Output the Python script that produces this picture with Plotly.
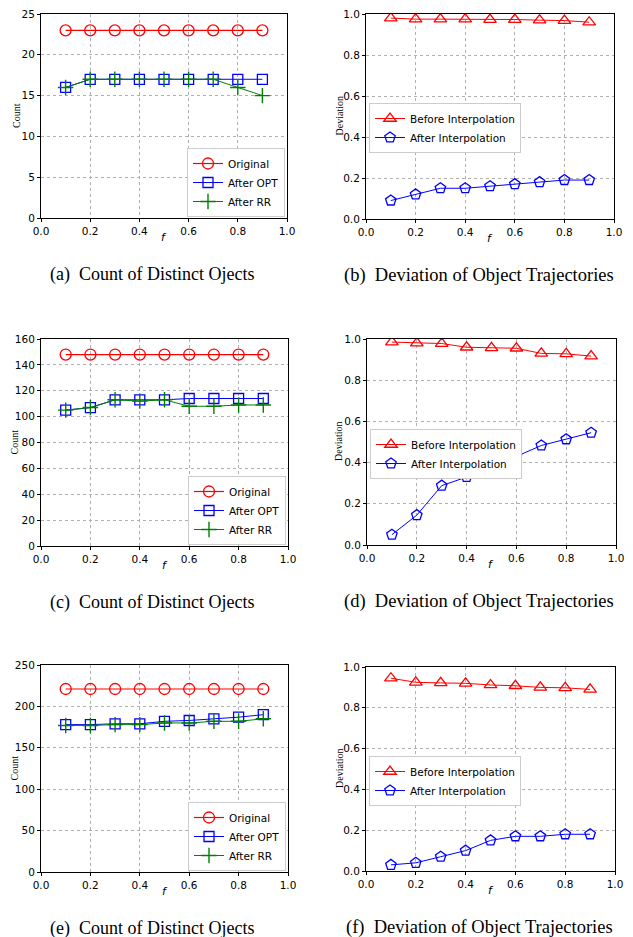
import plotly.graph_objects as go

F = [0.1, 0.2, 0.3, 0.4, 0.5, 0.6, 0.7, 0.8, 0.9]

# (a)
a_original = [23, 23, 23, 23, 23, 23, 23, 23, 23]
a_opt = [16, 17, 17, 17, 17, 17, 17, 17, 17]
a_rr = [16, 17, 17, 17, 17, 17, 17, 16, 15]
# (b)
b_before = [0.98, 0.975, 0.975, 0.975, 0.973, 0.973, 0.97, 0.968, 0.96]
b_after = [0.09, 0.12, 0.15, 0.15, 0.16, 0.17, 0.18, 0.19, 0.19]
# (c)
c_original = [148, 148, 148, 148, 148, 148, 148, 148, 148]
c_opt = [105, 107, 113, 113, 113, 114, 114, 114, 114]
c_rr = [105, 107, 113, 112, 113, 108, 108, 109, 109]
# (d)
d_before = [0.985, 0.98, 0.978, 0.96, 0.957, 0.955, 0.93, 0.928, 0.917]
d_after = [0.05, 0.145, 0.288, 0.33, 0.427, 0.43, 0.483, 0.513, 0.545]
# (e)
e_original = [221, 221, 221, 221, 221, 221, 221, 221, 221]
e_opt = [178, 178, 179, 179, 182, 183, 185, 187, 190]
e_rr = [177, 177, 178, 178, 180, 180, 182, 182, 185]
# (f)
f_before = [0.945, 0.925, 0.922, 0.92, 0.912, 0.908, 0.9, 0.898, 0.89]
f_after = [0.03, 0.04, 0.07, 0.10, 0.15, 0.17, 0.17, 0.18, 0.18]

count_ranges = [(0, 25, 5), (0, 160, 20), (0, 250, 50)]
captions_left = ["(a)\u2002Count of Distinct Ojects", "(c)\u2002Count of Distinct Ojects",
                 "(e)\u2002Count of Distinct Ojects"]
captions_right = ["(b)\u2002Deviation of Object Trajectories", "(d)\u2002Deviation of Object Trajectories",
                  "(f)\u2002Deviation of Object Trajectories"]

# page body has an 8px margin; the figure is sized so that it fits the window
OFF = 8
W, H = 633 - OFF, 937 - OFF

def px(x):
    return (x - OFF) / W

def py(y):
    return 1 - (y - OFF) / H

RED = "#ff0000"
BLUE = "#0000ff"
GREEN = "#008000"

fig = go.Figure()

# panel geometry in window pixels: (x0, x1, ytop, ybottom)
left_geo = [(41, 287, 14, 218), (41, 288, 339, 546), (41, 288, 665, 872)]
right_geo = [(366, 614, 14, 219), (367, 616, 339, 545), (366, 615, 667, 871)]
count_title_x = [17, 14, 14]
dev_title_x = [339, 339, 339]
legend_tops = [103, 429, 756]

count_data = [(a_original, a_opt, a_rr), (c_original, c_opt, c_rr), (e_original, e_opt, e_rr)]
dev_data = [(b_before, b_after), (d_before, d_after), (f_before, f_after)]

tickfont = dict(family="DejaVu Sans", size=10.5, color="black")
legfont = dict(family="DejaVu Sans", size=10.5, color="black")

annotations = []
axis_i = 0
legend_i = 0

def axis_name(i):
    return "" if i == 1 else str(i)

def style_axes(i, geo, yr, fmt):
    x0, x1, yt, yb = geo
    n = axis_name(i)
    fig.layout["xaxis" + n] = dict(
        domain=[px(x0), px(x1)], anchor="y" + n, range=[0, 1.0], tick0=0, dtick=0.2, tickformat=".1f",
        showline=True, linecolor="black", linewidth=1, mirror=True, ticks="outside", ticklen=3,
        tickcolor="black", showgrid=True, gridcolor="#b0b0b0", griddash="dot", gridwidth=1,
        zeroline=False, tickfont=tickfont, fixedrange=True, automargin=False, ticklabeloverflow="allow")
    fig.layout["yaxis" + n] = dict(
        domain=[py(yb), py(yt)], anchor="x" + n, range=[yr[0], yr[1]], tick0=yr[0], dtick=yr[2],
        tickformat=fmt, showline=True, linecolor="black", linewidth=1, mirror=True, ticks="outside",
        ticklen=3, tickcolor="black", showgrid=True, gridcolor="#b0b0b0", griddash="dot", gridwidth=1,
        zeroline=False, tickfont=tickfont, fixedrange=True, automargin=False, ticklabeloverflow="allow")

def ann(text, x, y, size, family, angle=0):
    annotations.append(dict(text=text, x=px(x), y=py(y), xref="paper", yref="paper", xanchor="center",
                            yanchor="middle", textangle=angle, showarrow=False,
                            font=dict(family=family, size=size, color="black")))

for row in range(3):
    # left: count panel
    axis_i += 1
    n = axis_name(axis_i)
    legend_i += 1
    lname = "legend" if legend_i == 1 else "legend" + str(legend_i)
    orig, opt, rr = count_data[row]
    geo = left_geo[row]
    style_axes(axis_i, geo, count_ranges[row], "d")
    fig.add_trace(go.Scatter(x=F, y=orig, name="Original", mode="lines+markers", xaxis="x" + n, yaxis="y" + n,
                             legend=lname, line=dict(color=RED, width=1.2),
                             marker=dict(symbol="circle-open", size=11, color=RED, line=dict(width=1.3))))
    fig.add_trace(go.Scatter(x=F, y=opt, name="After OPT", mode="lines+markers", xaxis="x" + n, yaxis="y" + n,
                             legend=lname, line=dict(color=BLUE, width=1),
                             marker=dict(symbol="square-open", size=10, color=BLUE, line=dict(width=1.3))))
    fig.add_trace(go.Scatter(x=F, y=rr, name="After RR", mode="lines+markers", xaxis="x" + n, yaxis="y" + n,
                             legend=lname, line=dict(color=GREEN, width=1),
                             marker=dict(symbol="cross-thin-open", size=11, color=GREEN,
                                         line=dict(width=1.4, color=GREEN))))
    x0, x1, yt, yb = geo
    fig.layout[lname] = dict(x=px(x1 - 2), y=py(yb - 1), xanchor="right", yanchor="bottom",
                             bgcolor="white", bordercolor="#cccccc", borderwidth=1, font=legfont,
                             itemwidth=30, tracegroupgap=0)
    ann("Count", count_title_x[row], (yt + yb) / 2, 10, "Liberation Serif", -90)
    ann("<i>f</i>", (x0 + x1) / 2, yb + 19, 11, "DejaVu Sans")
    ann(captions_left[row], 152, yb + 56, 18, "Liberation Serif")

    # right: deviation panel
    axis_i += 1
    n = axis_name(axis_i)
    legend_i += 1
    lname = "legend" + str(legend_i)
    before, after = dev_data[row]
    geo = right_geo[row]
    style_axes(axis_i, geo, (0, 1.0, 0.2), ".1f")
    fig.add_trace(go.Scatter(x=F, y=before, name="Before Interpolation", mode="lines+markers", xaxis="x" + n,
                             yaxis="y" + n, legend=lname, line=dict(color=RED, width=1),
                             marker=dict(symbol="triangle-up-open", size=11, color=RED, line=dict(width=1.3))))
    fig.add_trace(go.Scatter(x=F, y=after, name="After Interpolation", mode="lines+markers", xaxis="x" + n,
                             yaxis="y" + n, legend=lname, line=dict(color=BLUE, width=1),
                             marker=dict(symbol="pentagon-open", size=11, color=BLUE, line=dict(width=1.3))))
    x0, x1, yt, yb = geo
    fig.layout[lname] = dict(x=px(x0 + 3), y=py(legend_tops[row]), xanchor="left", yanchor="top",
                             bgcolor="white", bordercolor="#cccccc", borderwidth=1, font=legfont,
                             itemwidth=30, tracegroupgap=0)
    ann("Deviation", dev_title_x[row], (yt + yb) / 2, 10, "Liberation Serif", -90)
    ann("<i>f</i>", (x0 + x1) / 2, yb + 19, 11, "DejaVu Sans")
    ann(captions_right[row], 479, yb + 56, 18.5, "Liberation Serif")

fig.update_layout(width=W, height=H, margin=dict(l=0, r=0, t=0, b=0, autoexpand=False),
                  plot_bgcolor="white", paper_bgcolor="white", annotations=annotations, showlegend=True)

fig.write_html("out.html")
